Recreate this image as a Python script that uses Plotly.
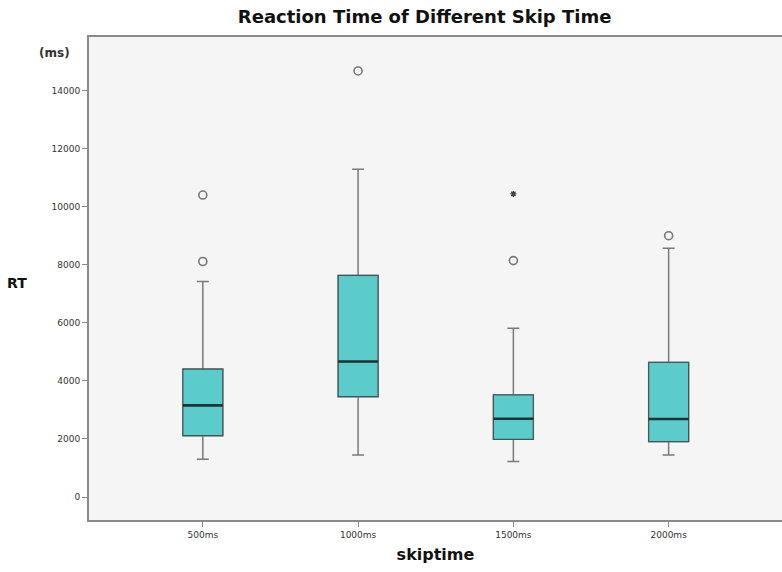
import plotly.graph_objects as go

categories = ["500ms", "1000ms", "1500ms", "2000ms"]
lower_whisker = [1300, 1450, 1220, 1450]
q1 = [2115, 3460, 1990, 1910]
median = [3160, 4670, 2700, 2690]
q3 = [4410, 7640, 3520, 4640]
upper_whisker = [7430, 11300, 5820, 8580]

outlier_x = ["500ms", "500ms", "1000ms", "1500ms", "2000ms"]
outlier_y = [10410, 8120, 14690, 8150, 9010]
extreme_x = ["1500ms"]
extreme_y = [10450]

y_ticks = [0, 2000, 4000, 6000, 8000, 10000, 12000, 14000]

FILL = "#5CCBCC"
BW = 0.257

fig = go.Figure()
# whiskers (gray)
fig.add_trace(go.Box(
    x=categories, q1=q1, median=median, q3=q3,
    lowerfence=lower_whisker, upperfence=upper_whisker,
    width=BW, whiskerwidth=0.3, fillcolor=FILL,
    line=dict(color="#7a7a7a", width=1.5), boxpoints=False, showlegend=False,
    hoverinfo="skip"))
# box outline (dark)
fig.add_trace(go.Box(
    x=categories, q1=q1, median=median, q3=q3,
    lowerfence=q1, upperfence=q3,
    width=BW, whiskerwidth=0, fillcolor=FILL,
    line=dict(color="#445656", width=1.2), boxpoints=False, showlegend=False,
    hoverinfo="skip"))
# median line (thick)
fig.add_trace(go.Box(
    x=categories, q1=median, median=median, q3=median,
    lowerfence=median, upperfence=median,
    width=BW, whiskerwidth=0, fillcolor="rgba(0,0,0,0)",
    line=dict(color="#1f3535", width=2.6), boxpoints=False, showlegend=False,
    hoverinfo="skip"))
fig.add_trace(go.Scatter(
    x=outlier_x, y=outlier_y, mode="markers", showlegend=False,
    marker=dict(symbol="circle-open", size=8, color="#777777", line=dict(width=1.6))))
fig.add_trace(go.Scatter(
    x=extreme_x, y=extreme_y, mode="markers", showlegend=False,
    marker=dict(symbol="asterisk-open", size=5, color="#444444", line=dict(width=1.4))))

fig.update_layout(
    width=782, height=572,
    margin=dict(l=89, r=0, t=37, b=52),
    paper_bgcolor="white", plot_bgcolor="#F5F5F5",
    boxmode="overlay",
    font=dict(family="DejaVu Sans", color="#333333"),
    title=dict(text="<b>Reaction Time of Different Skip Time</b>",
               x=0.543, xanchor="center", y=0.97, yanchor="middle",
               font=dict(size=18, color="#111111")),
    xaxis=dict(
        type="category", categoryorder="array", categoryarray=categories,
        range=[-0.733, 3.73], showgrid=False, zeroline=False,
        showline=True, linecolor="#8a8a8a", linewidth=2, mirror=True,
        ticks="outside", ticklen=5, tickcolor="#888888",
        tickfont=dict(size=9, color="#333333"),
        title=dict(text="<b>skiptime</b>", font=dict(size=16, color="#111111"), standoff=10)),
    yaxis=dict(
        range=[-793, 15860], tickvals=y_ticks, tickformat="d",
        showgrid=False, zeroline=False,
        showline=True, linecolor="#8a8a8a", linewidth=2, mirror=False,
        ticks="outside", ticklen=5, tickcolor="#888888",
        tickfont=dict(size=9, color="#333333")),
    annotations=[
        dict(text="<b>RT</b>", xref="paper", yref="paper", x=-0.104, y=0.49,
             xanchor="center", yanchor="middle", showarrow=False,
             font=dict(size=14, color="#111111")),
        dict(text="<b>(ms)</b>", xref="paper", yref="paper", x=-0.05, y=0.967,
             xanchor="center", yanchor="middle", showarrow=False,
             font=dict(size=12, color="#333333")),
    ],
)

fig.write_html("out.html", config={"displayModeBar": False},
               post_script="document.body.style.margin='0';")
